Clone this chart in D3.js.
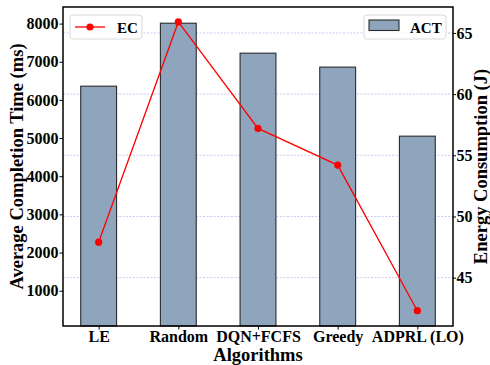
<!DOCTYPE html>
<html>
<head>
<meta charset="utf-8">
<script src="https://cdn.jsdelivr.net/npm/d3@7"></script>
<style>
  html, body { margin: 0; padding: 0; background: #fff; }
  svg { display: block; }
  text { font-family: "Liberation Serif", "Times New Roman", serif; font-weight: bold; fill: #000; }
</style>
</head>
<body>
<svg id="chart" width="490" height="365"></svg>
<script>
// Algorithms compared
const algorithms = ["LE", "Random", "DQN+FCFS", "Greedy", "ADPRL (LO)"];
// Average completion time (ms), bars on the left axis
const actValues = [6360, 8010, 7225, 6860, 5050];
// Energy consumption (J), line on the right axis
const ecValues = [47.9, 65.9, 57.2, 54.2, 42.3];
// Tick labels
const leftTicks = [1000, 2000, 3000, 4000, 5000, 6000, 7000, 8000];
const rightTicks = [45, 50, 55, 60, 65];

const svg = d3.select("#chart");
const margin = { left: 63, right: 37, top: 7, bottom: 39 };
const W = 490, H = 365;
const x0 = margin.left, x1 = W - margin.right;
const y0 = H - margin.bottom, y1 = margin.top;

const barWidth = 0.45;
const x = d3.scaleLinear().domain([-0.4475, algorithms.length - 1 + 0.4475]).range([x0, x1]);
const yLeft = d3.scaleLinear().domain([75, 8435]).range([y0, y1]);
const yRight = d3.scaleLinear().domain([41.05, 67.12]).range([y0, y1]);

// Grid lines following the energy axis
svg.append("g").selectAll("line").data(rightTicks).join("line")
  .attr("x1", x0).attr("x2", x1)
  .attr("y1", d => yRight(d)).attr("y2", d => yRight(d))
  .attr("stroke", "#c6c3ee").attr("stroke-width", 0.9)
  .attr("stroke-dasharray", "2,1.5");

// Bars: ACT
svg.append("g").selectAll("rect").data(actValues).join("rect")
  .attr("x", (d, i) => x(i - barWidth / 2))
  .attr("width", x(barWidth) - x(0))
  .attr("y", d => yLeft(d))
  .attr("height", d => y0 - yLeft(d))
  .attr("fill", "#8fa4bd")
  .attr("stroke", "#2b2b2b").attr("stroke-width", 1.1);

// Line: EC
const line = d3.line().x((d, i) => x(i)).y(d => yRight(d));
svg.append("path").datum(ecValues)
  .attr("d", line).attr("fill", "none")
  .attr("stroke", "#ff0000").attr("stroke-width", 1.3);
svg.append("g").selectAll("circle").data(ecValues).join("circle")
  .attr("cx", (d, i) => x(i)).attr("cy", d => yRight(d))
  .attr("r", 3.6).attr("fill", "#ff0000");

// Axes
const fs = 16;
const gL = svg.append("g").attr("transform", `translate(${x0},0)`)
  .call(d3.axisLeft(yLeft).tickValues(leftTicks).tickSize(3.5).tickPadding(1).tickFormat(d3.format("d")));
const gR = svg.append("g").attr("transform", `translate(${x1},0)`)
  .call(d3.axisRight(yRight).tickValues(rightTicks).tickSize(3).tickPadding(0.5));
const gB = svg.append("g").attr("transform", `translate(0,${y0})`)
  .call(d3.axisBottom(x).tickValues(d3.range(algorithms.length)).tickSize(3.5).tickPadding(1)
    .tickFormat(i => algorithms[i]));
[gL, gR, gB].forEach(g => {
  g.select(".domain").remove();
  g.selectAll(".tick line").attr("stroke", "#000").attr("stroke-width", 1);
  g.selectAll(".tick text").style("font-size", fs + "px").style("font-family", "Liberation Serif").style("font-weight", "bold");
});

// Frame
svg.append("rect").attr("x", x0).attr("y", y1).attr("width", x1 - x0).attr("height", y0 - y1)
  .attr("fill", "none").attr("stroke", "#000").attr("stroke-width", 1.5);

// Axis titles
const titleSize = "18.5px";
svg.append("text").attr("transform", `translate(23,${(y0 + y1) / 2}) rotate(-90)`)
  .attr("text-anchor", "middle").style("font-size", titleSize).text("Average Completion Time (ms)");
svg.append("text").attr("transform", `translate(487,${(y0 + y1) / 2}) rotate(-90)`)
  .attr("text-anchor", "middle").style("font-size", titleSize).text("Energy Consumption (J)");
svg.append("text").attr("x", (x0 + x1) / 2).attr("y", 360.5)
  .attr("text-anchor", "middle").style("font-size", titleSize).text("Algorithms");

// Legend: EC (upper left)
const lg1 = svg.append("g").attr("transform", "translate(70,15)");
lg1.append("rect").attr("width", 72).attr("height", 24).attr("rx", 3)
  .attr("fill", "#fff").attr("fill-opacity", 0.8).attr("stroke", "#d8d8d8").attr("stroke-width", 1);
lg1.append("line").attr("x1", 5).attr("x2", 35).attr("y1", 12).attr("y2", 12)
  .attr("stroke", "#ff0000").attr("stroke-width", 1.3);
lg1.append("circle").attr("cx", 20).attr("cy", 12).attr("r", 3.6).attr("fill", "#ff0000");
lg1.append("text").attr("x", 47).attr("y", 17.5).style("font-size", "15px").text("EC");

// Legend: ACT (upper right)
const lg2 = svg.append("g").attr("transform", "translate(364,15)");
lg2.append("rect").attr("width", 82).attr("height", 24).attr("rx", 3)
  .attr("fill", "#fff").attr("fill-opacity", 0.8).attr("stroke", "#d8d8d8").attr("stroke-width", 1);
lg2.append("rect").attr("x", 5).attr("y", 5).attr("width", 30).attr("height", 10.5)
  .attr("fill", "#8fa4bd").attr("stroke", "#2b2b2b").attr("stroke-width", 1.1);
lg2.append("text").attr("x", 46).attr("y", 17.5).style("font-size", "15px").text("ACT");
</script>
</body>
</html>
